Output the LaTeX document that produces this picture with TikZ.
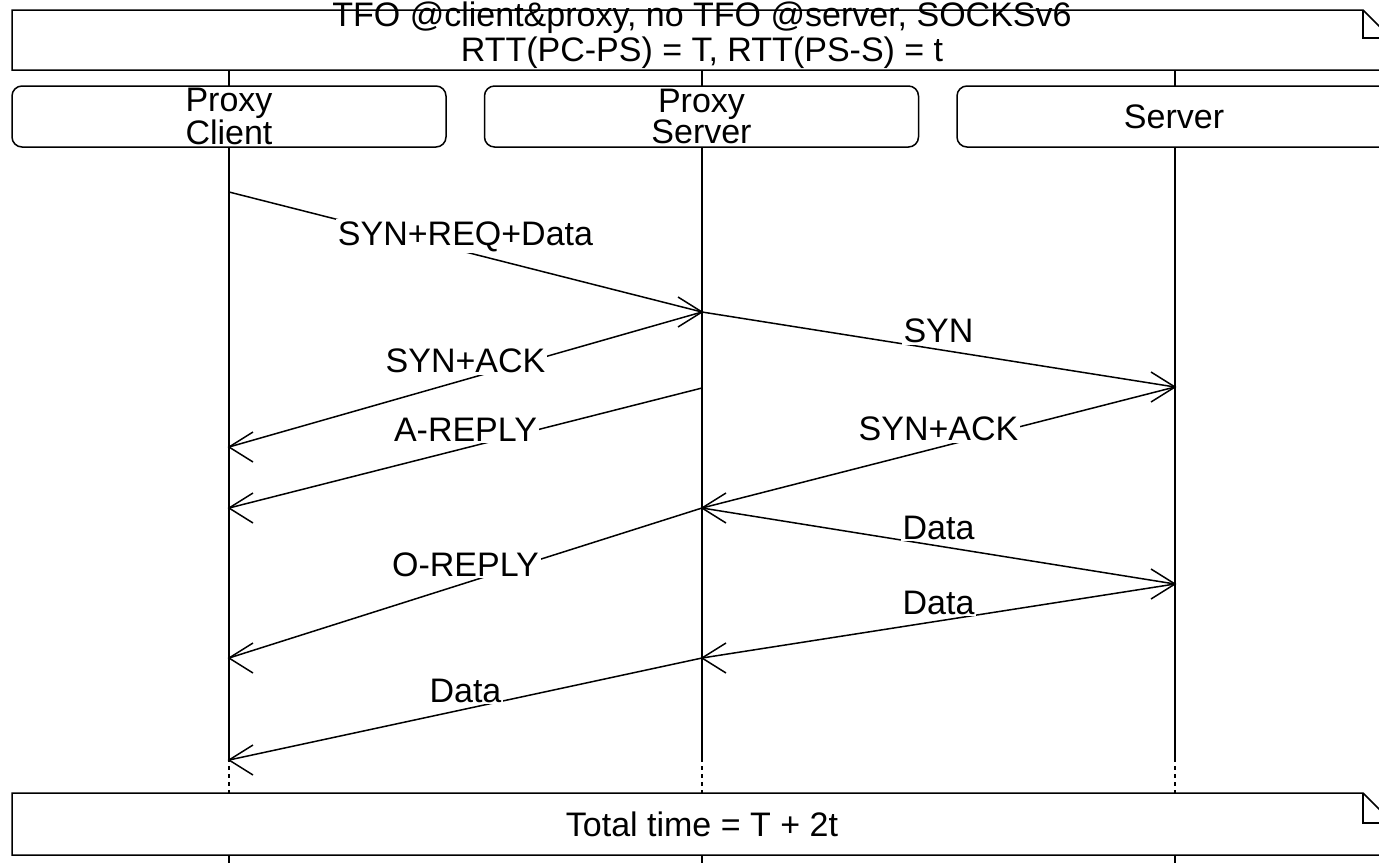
\documentclass[tikz,border=0pt]{standalone}
\usepackage{fontspec}
\setmainfont{Liberation Sans}
\usetikzlibrary{calc}
\newcommand{\seqmsg}[4]{%
  \draw[msgline] (#1) -- node[lbl] (#4) {#3} (#2);
  \draw[msgline] ($(#2)!24pt!(#2 -| #1) + (0,15)$) -- (#2) -- ($(#2)!24pt!(#2 -| #1) + (0,-15)$);
}
\begin{document}
\begin{tikzpicture}[x=1pt,y=-1pt, line width=1.5pt,
  lbl/.style={font=\fontsize{34}{34}\selectfont, fill=white, inner sep=2pt, anchor=base, yshift=7pt},
  msgline/.style={draw, line join=miter},
  part/.style={draw, fill=white, rounded corners=10pt, minimum width=434pt, minimum height=61pt, align=center, font=\fontsize{34}{25}\selectfont, inner sep=0pt},
  lifedot/.style={draw, dash pattern=on 4pt off 4pt},
  notebox/.style={draw, fill=white},
  notetext/.style={font=\fontsize{34}{35}\selectfont, align=center, inner sep=0pt}]
\useasboundingbox (0,0) rectangle (1379,863);
\clip (0,0) rectangle (1379,863);
\fill[white] (0,0) rectangle (1379,863);
% lifeline coordinates
\foreach \n/\x in {pc/229, ps/702, sv/1175} {
  \coordinate (\n T) at (\x,70);
  \coordinate (\n A) at (\x,758);
  \coordinate (\n B) at (\x,793);
  \coordinate (\n C) at (\x,855);
  \coordinate (\n E) at (\x,863);
}
\foreach \n in {pc, ps, sv} {
  \draw (\n T) -- (\n A);
  \draw[lifedot] (\n A) -- (\n B);
  \draw (\n C) -- (\n E);
}
% top note
\path[notebox] (12,10) -- (1363,10) -- (1391,38) -- (1391,70) -- (12,70) -- cycle;
\draw (1363,10) -- (1363,38) -- (1391,38);
\node[notetext] (hdr) at (702,35) {TFO @client\&proxy, no TFO @server, SOCKSv6\\RTT(PC-PS) = T, RTT(PS-S) = t};
% participants
\node[part] (pc) at (229,116.5) {Proxy\\Client};
\node[part] (ps) at (701.5,116.5) {Proxy\\Server};
\node[part] (sv) at (1174,116.5) {Server};
% bottom note
\path[notebox] (12,793) -- (1363,793) -- (1393,823) -- (1393,855) -- (12,855) -- cycle;
\draw (1363,793) -- (1363,823) -- (1393,823);
\node[notetext] (total) at (702,824) {Total time = T + 2t};
% message end points
\coordinate (pc1) at (229,192);
\coordinate (ps1) at (702,312);
\coordinate (pc2) at (229,447);
\coordinate (sv1) at (1175,387);
\coordinate (ps2) at (702,388);
\coordinate (pc3) at (229,508);
\coordinate (ps3) at (702,508);
\coordinate (sv2) at (1175,584);
\coordinate (pc4) at (229,658);
\coordinate (ps4) at (702,658);
\coordinate (pc5) at (229,760);
% messages
\seqmsg{pc1}{ps1}{SYN+REQ+Data}{l1}
\seqmsg{ps1}{pc2}{SYN+ACK}{l2}
\seqmsg{ps1}{sv1}{SYN}{l3}
\seqmsg{ps2}{pc3}{A-REPLY}{l4}
\seqmsg{sv1}{ps3}{SYN+ACK}{l5}
\seqmsg{ps3}{sv2}{Data}{l6}
\seqmsg{ps3}{pc4}{O-REPLY}{l7}
\seqmsg{sv2}{ps4}{Data}{l8}
\seqmsg{ps4}{pc5}{Data}{l9}
\end{tikzpicture}
\end{document}
